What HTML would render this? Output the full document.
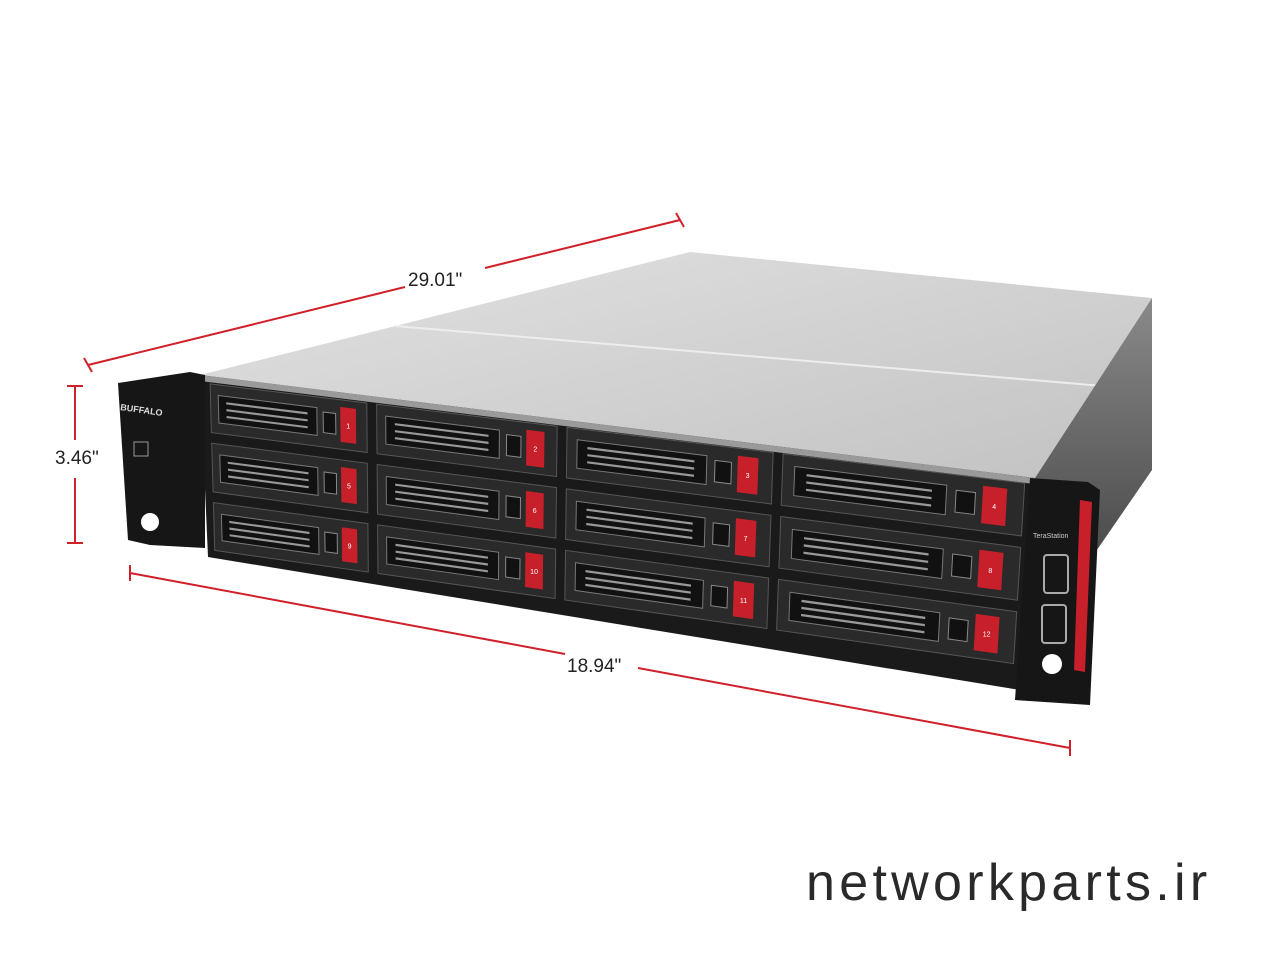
<!DOCTYPE html>
<html><head><meta charset="utf-8"><style>
html,body{margin:0;padding:0;background:#fff;width:1280px;height:960px;overflow:hidden}
svg{display:block}
</style></head><body>
<svg id="s" width="1280" height="960" viewBox="0 0 1280 960" xmlns="http://www.w3.org/2000/svg">
<defs>
<linearGradient id="top" x1="0" y1="0" x2="1" y2="1">
<stop offset="0" stop-color="#e2e2e2"/><stop offset="0.5" stop-color="#d2d2d2"/><stop offset="1" stop-color="#c2c2c2"/>
</linearGradient>
<linearGradient id="side" x1="0" y1="0" x2="0" y2="1">
<stop offset="0" stop-color="#8a8a8a"/><stop offset="1" stop-color="#4a4a4a"/>
</linearGradient>
</defs>
<polygon points="200,375 690,252 1152,298 1035,478" fill="url(#top)"/>
<line x1="395" y1="326" x2="1150" y2="390" stroke="#ededed" stroke-width="2"/>
<polygon points="1035,478 1152,298 1152,470 1090,560" fill="url(#side)"/>
<polygon points="200,375 1035,478 1020,690 208,557" fill="#1a1a1a"/>
<polygon points="200,375 1035,478 1034,484 200,381" fill="#9a9a9a"/>
<g id="drives"></g>
<polygon points="118,383 190,372 205,375 205,548 150,545 128,540" fill="#161616"/>
<text x="120" y="410" font-family="Liberation Sans, sans-serif" font-size="9" font-weight="bold" fill="#ddd" transform="rotate(8 120 410)">BUFFALO</text>
<rect x="134" y="442" width="14" height="14" fill="none" stroke="#999" stroke-width="1"/>
<circle cx="150" cy="522" r="9" fill="#fff"/>
<polygon points="1030,478 1088,482 1100,490 1090,705 1015,700" fill="#161616"/>
<polygon points="1080,500 1092,502 1085,672 1074,670" fill="#c8202a"/>
<text x="1033" y="538" font-family="Liberation Sans, sans-serif" font-size="7" fill="#ccc">TeraStation</text>
<rect x="1044" y="555" width="24" height="38" rx="3" fill="none" stroke="#aaa" stroke-width="2"/>
<rect x="1042" y="605" width="24" height="38" rx="3" fill="none" stroke="#aaa" stroke-width="2"/>
<circle cx="1052" cy="664" r="10" fill="#fff"/>
<g stroke="#d0202a" stroke-width="2" fill="none">
<line x1="88" y1="365" x2="405" y2="287"/><line x1="485" y1="268" x2="680" y2="220"/>
<line x1="84" y1="358" x2="92" y2="372"/><line x1="676" y1="213" x2="684" y2="227"/>
<line x1="75" y1="386" x2="75" y2="440"/><line x1="75" y1="478" x2="75" y2="543"/>
<line x1="67" y1="386" x2="83" y2="386"/><line x1="67" y1="543" x2="83" y2="543"/>
<line x1="130" y1="573" x2="565" y2="654"/><line x1="638" y1="668" x2="1070" y2="748"/>
<line x1="130" y1="565" x2="130" y2="581"/><line x1="1070" y1="740" x2="1070" y2="756"/>
</g>
<g font-family="Liberation Sans, sans-serif" font-size="19" fill="#222">
<text x="408" y="286">29.01"</text>
<text x="55" y="464">3.46"</text>
<text x="567" y="672">18.94"</text>
</g>
<text x="806" y="900" font-family="Liberation Sans, sans-serif" font-size="52" fill="#2a2a2a" letter-spacing="4.3">networkparts.ir</text>
</svg>
<script>
(function(){
var TL=[205,378],TR=[1030,478],BL=[210,555],BR=[1018,670];
function P(u,v){return [TL[0]*(1-u)*(1-v)+TR[0]*u*(1-v)+BL[0]*(1-u)*v+BR[0]*u*v,
TL[1]*(1-u)*(1-v)+TR[1]*u*(1-v)+BL[1]*(1-u)*v+BR[1]*u*v];}
function poly(pts,f,s){var e=document.createElementNS("http://www.w3.org/2000/svg","polygon");
e.setAttribute("points",pts.map(function(p){return p[0].toFixed(1)+","+p[1].toFixed(1)}).join(" "));
e.setAttribute("fill",f);if(s){e.setAttribute("stroke",s);e.setAttribute("stroke-width","1");}return e;}
var g=document.getElementById("drives");
var cu=[0,0.202,0.433,0.695,1],rv=[0,0.335,0.67,1];
var n=1;
function Q(a,b,cc,d){return [P(a,cc),P(b,cc),P(b,d),P(a,d)];}
for(var r=0;r<3;r++)for(var c=0;c<4;c++){
var u0=cu[c]+0.006,u1=cu[c+1]-0.006,v0=rv[r]+0.03,v1=rv[r+1]-0.03;
g.appendChild(poly(Q(u0,u1,v0,v1),"#2a2a2a","#555"));
var w=u1-u0;
g.appendChild(poly(Q(u0+w*0.05,u0+w*0.68,v0+0.06,v1-0.06),"#111","#777"));
for(var k=1;k<4;k++){var vv=v0+0.06+(v1-v0-0.12)*k/4;
g.appendChild(poly(Q(u0+w*0.1,u0+w*0.62,vv-0.006,vv+0.006),"#999"));}
g.appendChild(poly(Q(u0+w*0.72,u0+w*0.8,v0+0.08,v1-0.08),"#111","#888"));
g.appendChild(poly(Q(u0+w*0.83,u0+w*0.93,v0+0.04,v1-0.04),"#c8202a"));
var p=P(u0+w*0.88,(v0+v1)/2);
var t=document.createElementNS("http://www.w3.org/2000/svg","text");
t.setAttribute("x",p[0]);t.setAttribute("y",p[1]+3);t.setAttribute("font-size","7");
t.setAttribute("fill","#fff");t.setAttribute("text-anchor","middle");t.setAttribute("font-family","Liberation Sans, sans-serif");
t.textContent=String(n++);g.appendChild(t);
}
})();
</script>
</body></html>
